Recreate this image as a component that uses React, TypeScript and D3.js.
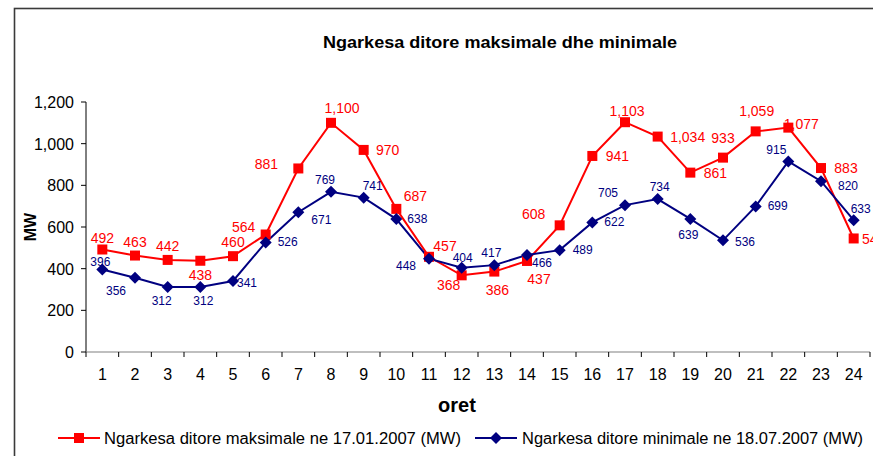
import React from "react";
import * as d3 from "d3";

const hours = [1,2,3,4,5,6,7,8,9,10,11,12,13,14,15,16,17,18,19,20,21,22,23,24];
const maxLoad = [492,463,442,438,460,564,881,1100,970,687,457,368,386,437,608,941,1103,1034,861,933,1059,1077,883,545];
const minLoad = [396,356,312,312,341,526,671,769,741,638,448,404,417,466,489,622,705,734,639,536,699,915,820,633];
const yTicks = [0,200,400,600,800,1000,1200];
const title = "Ngarkesa ditore maksimale dhe minimale";
const xTitle = "oret";
const yTitle = "MW";
const legendMax = "Ngarkesa ditore maksimale ne 17.01.2007 (MW)";
const legendMin = "Ngarkesa ditore minimale ne 18.07.2007 (MW)";

// label offsets (dx, dy) relative to markers, mimicking the original placement
const maxLabelOffsets: [number, number][] = [
  [0,-12],[0,-14],[0,-14],[0,14],[0,-14],[-22,-8],[-32,-4],[11,-15],[24,0],[19,-13],
  [16,-11],[-13,10],[3,18],[12,18],[-26,-11],[25,0],[2,-11],[30,0],[25,0],[0,-20],
  [1,-20],[13,-4],[25,0],[20,1]
];
const minLabelOffsets: [number, number][] = [
  [-2,-8],[-19,13],[-6,14],[3,14],[14,2],[22,0],[23,8],[-6,-12],[9,-12],[21,0],
  [-23,7],[1,-10],[-3,-12],[15,8],[23,0],[22,0],[-17,-12],[2,-12],[-2,16],[22,2],
  [22,0],[-12,-11],[27,5],[7,-11]
];

const W = 873, H = 456;
const left = 86, right = 870, top = 102, bottom = 352;
const RED = "#FF0000";
const NAVY = "#000080";
const FONT = "'Liberation Sans', Arial, sans-serif";

export default function App() {
  const x = d3.scaleBand<number>().domain(hours).range([left, right]).padding(0);
  const y = d3.scaleLinear().domain([0, 1200]).range([bottom, top]);
  const cx = (h: number) => (x(h) as number) + x.bandwidth() / 2;
  const line = d3.line<number>().x((_, i) => cx(hours[i])).y(d => y(d));
  const fmt = d3.format(",");
  const diamond = (px: number, py: number, r: number) =>
    `M${px},${py - r}L${px + r},${py}L${px},${py + r}L${px - r},${py}Z`;

  return (
    <svg width={W} height={H} style={{ position: "absolute", left: 0, top: 0, background: "#fff" }} fontFamily={FONT}>
      <rect x={0} y={0} width={W} height={H} fill="#fff" />
      <rect x={14.5} y={8.5} width={W + 20} height={H + 20} fill="none" stroke="#3a3a3a" strokeWidth={1.6} />
      <text x={500} y={48} textAnchor="middle" fontSize={17} fontWeight="bold" fill="#000" textLength={354} lengthAdjust="spacingAndGlyphs">{title}</text>

      {/* y axis */}
      <line x1={left} x2={left} y1={top} y2={bottom} stroke="#000" strokeWidth={1} />
      {yTicks.map(t => (
        <g key={t}>
          <line x1={left - 5} x2={left} y1={y(t)} y2={y(t)} stroke="#000" />
          <text x={left - 12} y={y(t) + 6} textAnchor="end" fontSize={16} fill="#000">{fmt(t)}</text>
        </g>
      ))}
      <text transform={`translate(36,${(top + bottom) / 2}) rotate(-90)`} textAnchor="middle" fontSize={16} fontWeight="bold" fill="#000">{yTitle}</text>

      {/* x axis */}
      <line x1={left} x2={right} y1={bottom} y2={bottom} stroke="#808080" strokeWidth={1.2} />
      {hours.map(h => (
        <line key={"t" + h} x1={(x(h) as number) + x.bandwidth()} x2={(x(h) as number) + x.bandwidth()} y1={bottom} y2={bottom + 5} stroke="#000" />
      ))}
      <line x1={left} x2={left} y1={bottom} y2={bottom + 5} stroke="#000" />
      {hours.map(h => (
        <text key={"l" + h} x={cx(h)} y={bottom + 28} textAnchor="middle" fontSize={16} fill="#000">{h}</text>
      ))}
      <text x={457} y={412} textAnchor="middle" fontSize={20} fontWeight="bold" fill="#000">{xTitle}</text>

      {/* series */}
      <path d={line(maxLoad) || ""} fill="none" stroke={RED} strokeWidth={2} />
      <path d={line(minLoad) || ""} fill="none" stroke={NAVY} strokeWidth={2} />
      {maxLoad.map((v, i) => (
        <rect key={"m" + i} x={cx(hours[i]) - 5} y={y(v) - 5} width={10} height={10} fill={RED} />
      ))}
      {minLoad.map((v, i) => (
        <path key={"n" + i} d={diamond(cx(hours[i]), y(v), 6)} fill={NAVY} />
      ))}
      {maxLoad.map((v, i) => (
        <text key={"ml" + i} x={cx(hours[i]) + maxLabelOffsets[i][0]} y={y(v) + maxLabelOffsets[i][1] + 5} textAnchor="middle" fontSize={14} fill={RED}>{fmt(v)}</text>
      ))}
      {minLoad.map((v, i) => (
        <text key={"nl" + i} x={cx(hours[i]) + minLabelOffsets[i][0]} y={y(v) + minLabelOffsets[i][1] + 4} textAnchor="middle" fontSize={12} fill={NAVY}>{fmt(v)}</text>
      ))}

      {/* legend */}
      <line x1={58} x2={100} y1={438} y2={438} stroke={RED} strokeWidth={2} />
      <rect x={74} y={433} width={10} height={10} fill={RED} />
      <text x={104} y={444} fontSize={16} fill="#000" textLength={357} lengthAdjust="spacingAndGlyphs">{legendMax}</text>
      <line x1={475} x2={517} y1={438} y2={438} stroke={NAVY} strokeWidth={2} />
      <path d={diamond(496, 438, 6)} fill={NAVY} />
      <text x={522} y={444} fontSize={16} fill="#000" textLength={341} lengthAdjust="spacingAndGlyphs">{legendMin}</text>
    </svg>
  );
}
